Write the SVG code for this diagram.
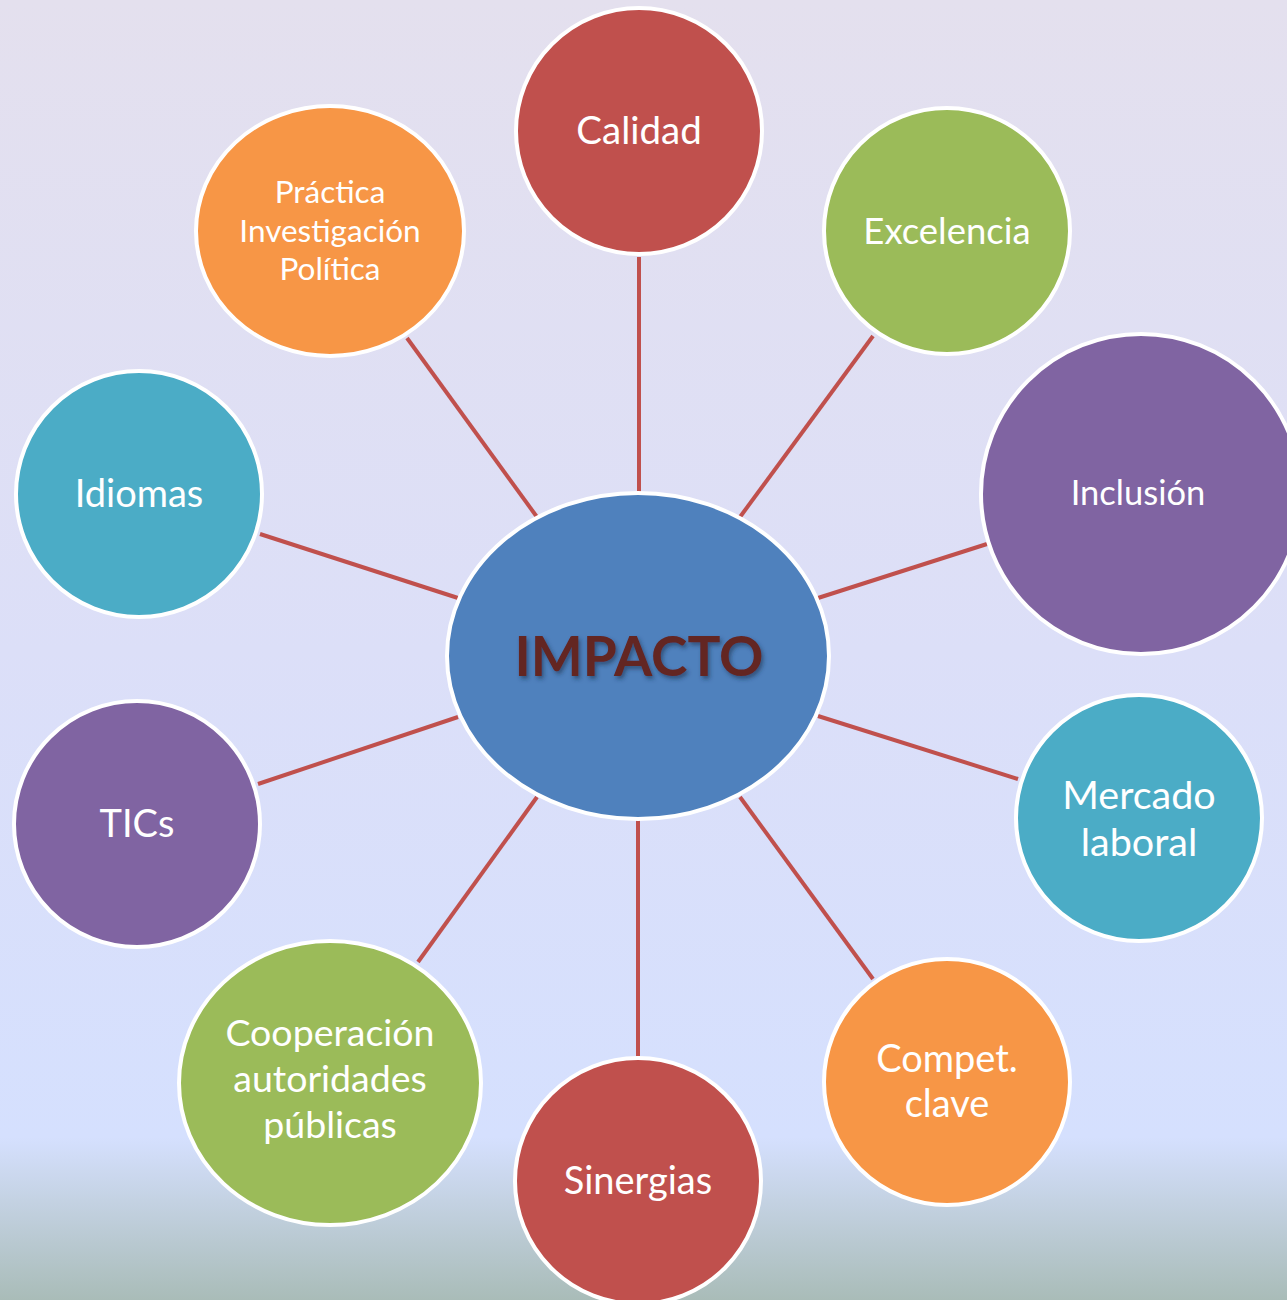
<svg xmlns="http://www.w3.org/2000/svg" width="1287" height="1300" viewBox="0 0 1287 1300">
<defs>
<linearGradient id="bg" x1="0" y1="0" x2="0" y2="1">
<stop offset="0" stop-color="#E4E0EE"/>
<stop offset="0.5" stop-color="#DCDFF8"/>
<stop offset="0.875" stop-color="#D5E0FE"/>
<stop offset="1" stop-color="#A9BCB8"/>
</linearGradient>
<filter id="sh" x="-10%" y="-30%" width="120%" height="160%">
<feDropShadow dx="2" dy="3" stdDeviation="2" flood-color="#1F3550" flood-opacity="0.6"/>
</filter>
</defs>
<style>
.n{stroke:#FFFFFF;stroke-width:4}
.t{font-family:Lato,"Open Sans","Liberation Sans",sans-serif;fill:#FFFFFF;text-anchor:middle}
.c{stroke:#C0504D;stroke-width:4;fill:none}
</style>
<rect width="1287" height="1300" fill="url(#bg)"/>
<g id="connectors">
<line class="c" x1="639" y1="257" x2="639" y2="493"/>
<line class="c" x1="873" y1="336" x2="740" y2="517"/>
<line class="c" x1="987" y1="544" x2="818" y2="598"/>
<line class="c" x1="1018" y1="779" x2="818" y2="716"/>
<line class="c" x1="873" y1="979" x2="740" y2="797"/>
<line class="c" x1="638" y1="1056" x2="638" y2="820"/>
<line class="c" x1="418" y1="962" x2="537" y2="797"/>
<line class="c" x1="258" y1="784" x2="458" y2="717"/>
<line class="c" x1="260" y1="534" x2="458" y2="598"/>
<line class="c" x1="407" y1="338" x2="537" y2="517"/>
</g>
<g id="impacto">
<ellipse class="n" cx="638" cy="656" rx="191" ry="163" fill="#4F81BD"/>
<text x="639" y="676" font-family="Lato,'Open Sans','Liberation Sans',sans-serif" font-weight="bold" font-size="55" fill="#632523" text-anchor="middle" filter="url(#sh)">IMPACTO</text>
</g>
<g id="calidad">
<circle class="n" cx="639" cy="131" r="123" fill="#C0504D"/>
<text class="t" x="639" y="144" font-size="38.5">Calidad</text>
</g>
<g id="excelencia">
<circle class="n" cx="947" cy="231" r="123" fill="#9BBB59"/>
<text class="t" x="947" y="244" font-size="36.5">Excelencia</text>
</g>
<g id="inclusion">
<circle class="n" cx="1141" cy="494" r="160" fill="#8064A2"/>
<text class="t" x="1138" y="505" font-size="34.5">Inclusión</text>
</g>
<g id="mercado">
<circle class="n" cx="1139" cy="818" r="123" fill="#4BACC6"/>
<text class="t" x="1139" y="809" font-size="39.5">Mercado</text>
<text class="t" x="1139" y="856" font-size="39.5">laboral</text>
</g>
<g id="compet">
<circle class="n" cx="947" cy="1082" r="123" fill="#F79646"/>
<text class="t" x="947" y="1072" font-size="38">Compet.</text>
<text class="t" x="947" y="1117" font-size="38">clave</text>
</g>
<g id="sinergias">
<circle class="n" cx="638" cy="1181" r="123" fill="#C0504D"/>
<text class="t" x="638" y="1194" font-size="38">Sinergias</text>
</g>
<g id="cooperacion">
<ellipse class="n" cx="330" cy="1083" rx="151" ry="142" fill="#9BBB59"/>
<text class="t" x="330" y="1046" font-size="37.5">Cooperación</text>
<text class="t" x="330" y="1092" font-size="37.5">autoridades</text>
<text class="t" x="330" y="1138" font-size="37.5">públicas</text>
</g>
<g id="tics">
<circle class="n" cx="137" cy="824" r="123" fill="#8064A2"/>
<text class="t" x="137" y="837" font-size="38">TICs</text>
</g>
<g id="idiomas">
<circle class="n" cx="139" cy="494" r="123" fill="#4BACC6"/>
<text class="t" x="139" y="507" font-size="38">Idiomas</text>
</g>
<g id="practica">
<ellipse class="n" cx="330" cy="231" rx="134" ry="125" fill="#F79646"/>
<text class="t" x="330" y="203" font-size="31.5">Práctica</text>
<text class="t" x="330" y="242" font-size="31.5">Investigación</text>
<text class="t" x="330" y="280" font-size="31.5">Política</text>
</g>
</svg>
